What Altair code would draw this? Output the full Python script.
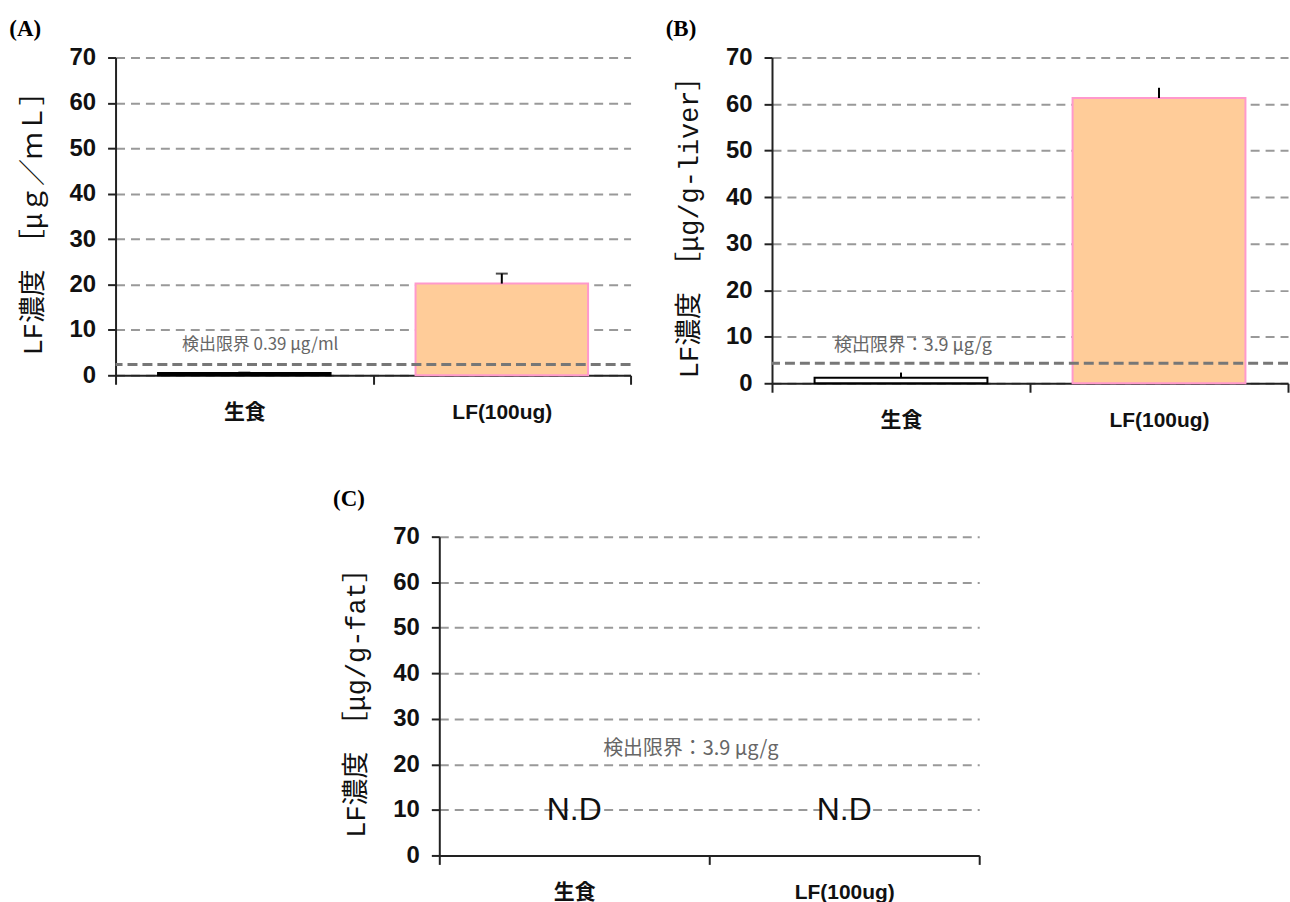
import altair as alt
import pandas as pd

# ---------------- data ----------------
categories = ["生食", "LF(100ug)"]
a_means = [0.5, 20.2]
a_errors = [0.1, 2.2]
b_means = [1.2, 61.3]
b_errors = [1.1, 2.2]
c_results = ["N.D", "N.D"]
ytick_values = [0, 10, 20, 30, 40, 50, 60, 70]
a_limit = 2.4
b_limit = 4.3
a_limit_text = "検出限界 0.39 μg/ml"
b_limit_text = "検出限界：3.9 μg/g"
c_limit_text = "検出限界：3.9 μg/g"
panel_titles = ["(A)", "(B)", "(C)"]
y_titles = [
    "LF濃度　［μｇ／ｍＬ］",
    "LF濃度　［μg/g-liver］",
    "LF濃度　［μg/g-fat］",
]

SANS = "Liberation Sans, Noto Sans CJK JP, sans-serif"
MONO = "Liberation Mono, Noto Sans CJK JP, monospace"
CJK = "Noto Sans CJK JP, Liberation Sans, sans-serif"
AXIS_COLOR = "#222"

XSCALE = alt.Scale(domain=categories, paddingInner=0, paddingOuter=0)
YSCALE = alt.Scale(domain=[0, 70], nice=False, zero=True)


def x_axis():
    return alt.Axis(
        title=None, labelAngle=0, tickBand="extent", tickSize=9, tickWidth=2,
        tickColor=AXIS_COLOR, domainColor=AXIS_COLOR, domainWidth=2,
        labelFont=SANS, labelFontWeight="bold", labelFontSize=21,
        labelColor="#111", labelPadding=17, grid=False,
    )


def y_axis(title):
    return alt.Axis(
        title=title, values=ytick_values, grid=True, gridDash=[9, 6],
        gridColor="#999", gridWidth=2, tickSize=8, tickWidth=2,
        tickColor=AXIS_COLOR, domainColor=AXIS_COLOR, domainWidth=2,
        labelFont=SANS, labelFontWeight="bold", labelFontSize=24,
        labelColor="#111", labelPadding=12, titleFont=MONO,
        titleFontWeight="normal", titleFontSize=27, titleColor="#111",
        titlePadding=22,
    )


def xf():
    return alt.X("cat:N", sort=categories, scale=XSCALE, axis=x_axis())


def yf(field, title):
    return alt.Y(field, scale=YSCALE, axis=y_axis(title))


def title_params(text, offset):
    return alt.TitleParams(
        text=text, anchor="start", font="Liberation Serif", fontSize=23,
        fontWeight="bold", color="black", dx=-10, offset=offset,
    )


def bar_panel(idx, means, errors, limit, limit_text, label_y, label_dx,
              label_size, low_fill, cap, width, height):
    ttl = y_titles[idx]
    df = pd.DataFrame({"cat": categories, "val": means, "err": errors})
    df["top"] = df["val"] + df["err"]
    is_low = alt.datum.cat == categories[0]
    bars = alt.Chart(df).mark_bar(
        width=alt.RelativeBandSize(0.67), strokeWidth=2
    ).encode(
        x=xf(),
        y=yf("val:Q", ttl),
        fill=alt.condition(is_low, alt.value(low_fill), alt.value("#FFCC99")),
        stroke=alt.condition(is_low, alt.value("black"), alt.value("#FF99CC")),
    )
    err = alt.Chart(df).mark_rule(color="black", strokeWidth=2).encode(
        x=xf(),
        y=yf("val:Q", ttl),
        y2="top:Q",
    )
    layers = [bars, err]
    if cap:
        caps = alt.Chart(df).mark_tick(color="black", thickness=2, size=12).encode(
            x=xf(),
            y=yf("top:Q", ttl),
        )
        layers.append(caps)
    lim = alt.Chart(pd.DataFrame({"limit": [limit]})).mark_rule(
        color="#777", strokeWidth=3, strokeDash=[10, 5]
    ).encode(y=yf("limit:Q", ttl))
    txt = alt.Chart(pd.DataFrame({"t": [limit_text]})).mark_text(
        font=CJK, fontSize=label_size, color="#666", dx=label_dx
    ).encode(
        x=alt.X(datum=categories[0], scale=XSCALE, axis=x_axis()),
        y=alt.Y(datum=label_y, scale=YSCALE, axis=y_axis(ttl)),
        text="t:N",
    )
    layers += [lim, txt]
    return alt.layer(*layers).properties(
        width=width, height=height, title=title_params(panel_titles[idx], 5)
    )


panel_a = bar_panel(0, a_means, a_errors, a_limit, a_limit_text, 6.6, 16, 17,
                    "black", True, 517, 319)
panel_b = bar_panel(1, b_means, b_errors, b_limit, b_limit_text, 7.9, 12, 18,
                    "white", False, 518, 327)

# Panel C: not detected
df_c = pd.DataFrame({"cat": categories, "res": c_results})
nd = alt.Chart(df_c).mark_text(font=SANS, fontSize=32, color="#111").encode(
    x=xf(),
    y=alt.Y(datum=10, scale=YSCALE, axis=y_axis(y_titles[2])),
    text="res:N",
)
c_txt = alt.Chart(pd.DataFrame({"t": [c_limit_text]})).mark_text(
    font=CJK, fontSize=20, color="#666", dx=117
).encode(
    x=alt.X(datum=categories[0], scale=XSCALE, axis=x_axis()),
    y=alt.Y(datum=23.3, scale=YSCALE, axis=y_axis(y_titles[2])),
    text="t:N",
)
panel_c = alt.layer(nd, c_txt).properties(
    width=542, height=320, title=title_params(panel_titles[2], 14)
)

spacer = alt.Chart(pd.DataFrame({"s": [0]})).mark_point(opacity=0).encode(
    x=alt.value(0), y=alt.value(0)
).properties(width=208, height=10)

top = alt.hconcat(panel_a, panel_b, spacing=33)
bottom = alt.hconcat(spacer, panel_c, spacing=10)
chart = alt.vconcat(top, bottom, spacing=58).properties(
    padding={"left": 9, "top": 16, "right": 0, "bottom": 0},
    background="white",
).configure_view(strokeWidth=0)

chart.save("out.html", embed_options={"renderer": "svg", "actions": False})
